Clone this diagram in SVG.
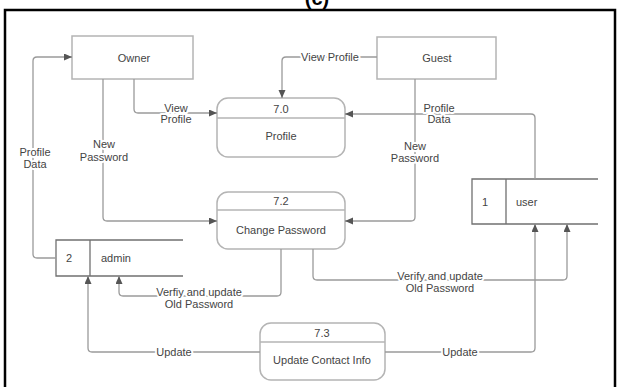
<svg xmlns="http://www.w3.org/2000/svg" width="618" height="387" viewBox="0 0 618 387">
  <style>
    text { font-family: "Liberation Sans", Arial, sans-serif; font-size: 11px; fill: #444; text-anchor: middle; dominant-baseline: central; }
    .title { font-size: 20px; font-weight: bold; fill: #000; dominant-baseline: auto; }
    .ent { fill: #fff; stroke: #b4b4b4; stroke-width: 1.5; }
    .proc { fill: #fff; stroke: #b4b4b4; stroke-width: 1.5; }
    .div { stroke: #b4b4b4; stroke-width: 1.5; }
    .store { fill: none; stroke: #707070; stroke-width: 1.3; }
    .flow { fill: none; stroke: #9a9a9a; stroke-width: 1.3; marker-end: url(#arr); }
    .lbl { paint-order: stroke; stroke: #fff; stroke-width: 4px; stroke-linejoin: round; }
    .left { text-anchor: start; }
  </style>
  <defs>
    <marker id="arr" markerUnits="userSpaceOnUse" markerWidth="9" markerHeight="8" refX="8" refY="3.5" orient="auto">
      <path d="M0,0 L8,3.5 L0,7 z" fill="#555"/>
    </marker>
  </defs>

  <rect x="0" y="0" width="618" height="387" fill="#fff"/>
  <text class="title" x="317" y="5">(c)</text>
  <rect x="5" y="10" width="610" height="390" fill="none" stroke="#000" stroke-width="2.5"/>

  <!-- external entities -->
  <g id="owner">
    <rect class="ent" x="72" y="36" width="121" height="43"/>
    <text x="134" y="58">Owner</text>
  </g>
  <g id="guest">
    <rect class="ent" x="377" y="37" width="119" height="42"/>
    <text x="437" y="58">Guest</text>
  </g>

  <!-- processes -->
  <g id="p70">
    <rect class="proc" x="217" y="98" width="128" height="59" rx="11"/>
    <line class="div" x1="217" y1="118" x2="345" y2="118"/>
    <text x="281" y="109">7.0</text>
    <text x="281" y="136">Profile</text>
  </g>
  <g id="p72">
    <rect class="proc" x="217" y="192" width="128" height="57" rx="11"/>
    <line class="div" x1="217" y1="210" x2="345" y2="210"/>
    <text x="281" y="201">7.2</text>
    <text x="281" y="230">Change Password</text>
  </g>
  <g id="p73">
    <rect class="proc" x="260" y="323" width="125" height="57" rx="11"/>
    <line class="div" x1="260" y1="342" x2="385" y2="342"/>
    <text x="322" y="333">7.3</text>
    <text x="322" y="360">Update Contact Info</text>
  </g>

  <!-- data stores -->
  <g id="store-user">
    <path class="store" d="M598,179 H472 V224 H598 M506,179 V224"/>
    <text x="485" y="202">1</text>
    <text class="left" x="516" y="202">user</text>
  </g>
  <g id="store-admin">
    <path class="store" d="M183,240 H56 V276 H183 M90,240 V276"/>
    <text x="69" y="258">2</text>
    <text class="left" x="101" y="258">admin</text>
  </g>

  <!-- data flows -->
  <g id="flows">
    <path class="flow" d="M56,258 H37 Q33,258 33,254 V61 Q33,57 37,57 H72"/>
    <path class="flow" d="M103,79 V217 Q103,221 107,221 H217"/>
    <path class="flow" d="M134,79 V109 Q134,113 138,113 H217"/>
    <path class="flow" d="M377,57 H286 Q282,57 282,61 V98"/>
    <path class="flow" d="M415,79 V217 Q415,221 411,221 H345"/>
    <path class="flow" d="M535,179 V118 Q535,114 531,114 H345"/>
    <path class="flow" d="M281,249 V292 Q281,296 277,296 H123 Q119,296 119,292 V276"/>
    <path class="flow" d="M313,249 V276 Q313,280 317,280 H563 Q567,280 567,276 V224"/>
    <path class="flow" d="M260,352 H92 Q88,352 88,348 V276"/>
    <path class="flow" d="M385,352 H531 Q535,352 535,348 V224"/>

    <text class="lbl" x="35" y="152">Profile</text>
    <text class="lbl" x="35" y="164">Data</text>
    <text class="lbl" x="104" y="144">New</text>
    <text class="lbl" x="104" y="157">Password</text>
    <text class="lbl" x="176" y="108">View</text>
    <text class="lbl" x="176" y="119">Profile</text>
    <text class="lbl" x="330" y="57">View Profile</text>
    <text class="lbl" x="415" y="146">New</text>
    <text class="lbl" x="415" y="158">Password</text>
    <text class="lbl" x="439" y="108">Profile</text>
    <text class="lbl" x="439" y="119">Data</text>
    <text class="lbl" x="199" y="292">Verfiy and update</text>
    <text class="lbl" x="199" y="304">Old Password</text>
    <text class="lbl" x="440" y="276">Verify and update</text>
    <text class="lbl" x="440" y="288">Old Password</text>
    <text class="lbl" x="174" y="352">Update</text>
    <text class="lbl" x="460" y="352">Update</text>
  </g>
</svg>
